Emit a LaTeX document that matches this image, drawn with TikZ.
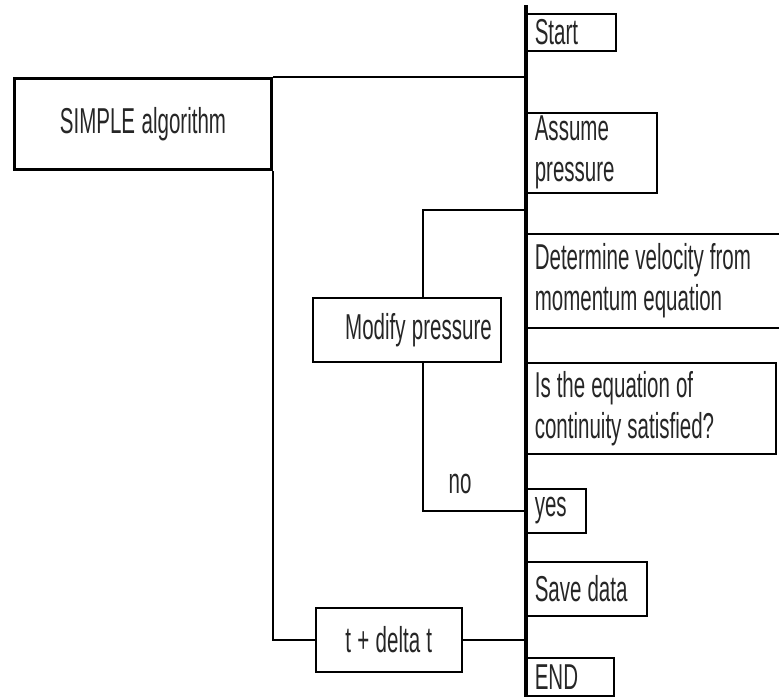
\documentclass[tikz,border=0pt]{standalone}
\usepackage{fontspec}
\setmainfont[FakeStretch=0.57]{Liberation Sans}
\usepackage{tikz}
\newcommand{\stepfontsize}{\fontsize{36}{41}\selectfont}
\tikzstyle{stepbox}=[draw, line width=1.6pt, anchor=north west, align=left, inner xsep=8pt, inner ysep=0, font=\stepfontsize, text=black!85,
                     % Narrow word spaces, as in a condensed face.
                     execute at begin node={\spaceskip=6pt plus 1pt minus 1pt\relax}]
\tikzstyle{algobox}=[stepbox, line width=3pt, align=center]
\tikzstyle{link}=[line width=1.6pt]
\tikzstyle{spine}=[line width=3.5pt]
\tikzstyle{flowchart}=[x=1pt, y=-1pt,
                       % Fixed page with the size of the figure.
                       execute at begin picture={\useasboundingbox (0, 0) rectangle (779, 697);}]

\begin{document}
\begin{tikzpicture}[flowchart]
        \node[algobox, text width=241pt, minimum height=91pt] (simple) at (13, 77) {SIMPLE algorithm};
        \node[stepbox, text width=73pt, minimum height=37pt] (start) at (526, 13) {Start};
        \node[stepbox, text width=114pt, minimum height=80pt] (assume) at (526, 112) {Assume\\pressure};
        \node[stepbox, text width=290pt, minimum height=94pt] (velocity) at (526, 233) {Determine velocity from\\ momentum equation};
        \node[stepbox, align=right, inner xsep=9pt, text width=170pt, minimum height=64pt] (modify) at (312, 297) {Modify pressure};
        \node[stepbox, text width=233pt, minimum height=91pt] (check) at (526, 362) {Is the equation of\\continuity satisfied?};
        \node[stepbox, text width=43pt, minimum height=44pt] (yes) at (526, 488) {yes};
        \node[stepbox, text width=104pt, minimum height=54pt] (save) at (526, 561) {Save data};
        \node[stepbox, align=center, text width=130pt, minimum height=64pt] (dt) at (315, 607) {t + delta t};
        \node[stepbox, text width=71pt, minimum height=38pt] (end) at (526, 657) {END};
        \node[font=\stepfontsize, text=black!85] (no) at (460, 484) {no};
        \coordinate (top) at (526, 5);
        \coordinate (bottom) at (526, 697);
        \coordinate (back) at (526, 210);
        \draw[spine] (top) -- (bottom);
        \draw[link] (simple.north east) -- (simple.north east -| top);
        \draw[link] (simple.south east) |- (dt.west);
        \draw[link] (dt.east) -- (dt.east -| top);
        \draw[link] ([xshift=16pt]modify.north) |- (back);
        \draw[link] ([xshift=16pt]modify.south) |- (yes.west);
    \end{tikzpicture}
\end{document}
